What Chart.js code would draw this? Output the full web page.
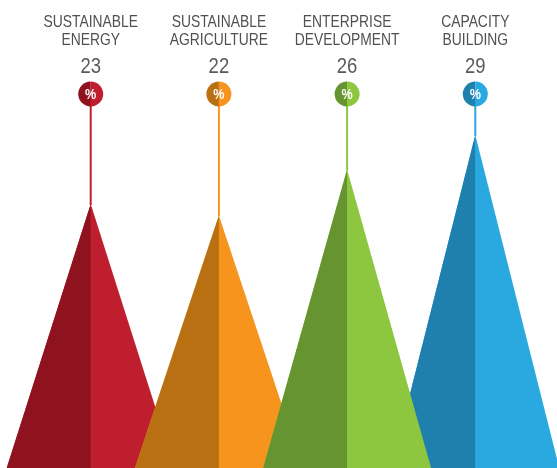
<!DOCTYPE html>
<html>
<head>
<meta charset="utf-8">
<script src="https://cdn.jsdelivr.net/npm/chart.js@4/dist/chart.umd.min.js"></script>
<style>
  html, body { margin: 0; padding: 0; background: #fff; }
  #wrap { width: 557px; height: 468px; }
</style>
</head>
<body>
<div id="wrap"><canvas id="peaks" width="557" height="468"></canvas></div>
<script>
// share of each programme area, in percent
const categories = [
  ['SUSTAINABLE', 'ENERGY'],
  ['SUSTAINABLE', 'AGRICULTURE'],
  ['ENTERPRISE', 'DEVELOPMENT'],
  ['CAPACITY', 'BUILDING']
];
const values = [23, 22, 26, 29];

// colours: shaded left side, bright right side
const darkColors = ['#8f121f', '#b87012', '#669431', '#1f80ad'];
const lightColors = ['#be1e2d', '#f7941d', '#8dc63f', '#29a9e0'];
// which peak sits on top (0 = front)
const layer = [2, 1, 0, 3];

const halfBase = 0.655; // half width of a peak's base, in category units
const fontName = '"Liberation Sans", Arial, sans-serif';
const squeeze = 0.84; // narrow the type like a condensed face

var datasets = [];
values.forEach(function (v, i) {
  // whole peak in the light colour
  datasets.push({
    data: [{x: i - halfBase, y: 0}, {x: i, y: v}, {x: i + halfBase, y: 0}],
    backgroundColor: lightColors[i],
    order: layer[i] * 2 + 1
  });
  // shaded left half on top of it
  datasets.push({
    data: [{x: i - halfBase, y: 0}, {x: i, y: v}],
    backgroundColor: darkColors[i],
    order: layer[i] * 2
  });
});
datasets.forEach(function (d) {
  d.showLine = true;
  d.fill = 'origin';
  d.borderWidth = 0;
  d.borderColor = 'rgba(0,0,0,0)';
  d.pointRadius = 0;
  d.tension = 0;
});

function narrowText(ctx, text, x, y) {
  ctx.save();
  ctx.translate(x, y);
  ctx.scale(squeeze, 1);
  ctx.fillText(text, 0, 0);
  ctx.restore();
}

// labels, numbers and the % pins above each peak
const pinPlugin = {
  id: 'pins',
  afterDatasetsDraw: function (chart) {
    var ctx = chart.ctx;
    var xs = chart.scales.x, ys = chart.scales.y;
    ctx.save();
    values.forEach(function (v, i) {
      var cx = xs.getPixelForValue(i);
      var top = ys.getPixelForValue(v);
      var cy = 94, r = 12.5;

      ctx.strokeStyle = lightColors[i];
      ctx.lineWidth = 2;
      ctx.beginPath();
      ctx.moveTo(cx, cy);
      ctx.lineTo(cx, top + 1);
      ctx.stroke();

      ctx.fillStyle = darkColors[i];
      ctx.beginPath();
      ctx.arc(cx, cy, r, Math.PI / 2, Math.PI * 1.5);
      ctx.closePath();
      ctx.fill();
      ctx.fillStyle = lightColors[i];
      ctx.beginPath();
      ctx.arc(cx, cy, r, -Math.PI / 2, Math.PI / 2);
      ctx.closePath();
      ctx.fill();

      ctx.fillStyle = '#fff';
      ctx.textAlign = 'center';
      ctx.textBaseline = 'middle';
      ctx.font = 'bold 15px ' + fontName;
      narrowText(ctx, '%', cx, cy + 1);

      ctx.textBaseline = 'alphabetic';
      ctx.fillStyle = '#505050';
      ctx.font = '16.5px ' + fontName;
      narrowText(ctx, categories[i][0], cx, 27);
      narrowText(ctx, categories[i][1], cx, 45);
      ctx.fillStyle = '#5a5a5a';
      ctx.font = '22px ' + fontName;
      narrowText(ctx, String(v), cx, 73);
    });
    ctx.restore();
  }
};

new Chart(document.getElementById('peaks'), {
  type: 'scatter',
  data: { datasets: datasets },
  options: {
    responsive: false,
    animation: false,
    layout: { padding: 0 },
    plugins: {
      legend: { display: false },
      tooltip: { enabled: false }
    },
    scales: {
      x: { type: 'linear', display: false, min: -0.7075, max: 3.6373 },
      y: { type: 'linear', display: false, min: 0, max: 40.77 }
    }
  },
  plugins: [pinPlugin]
});
</script>
</body>
</html>
